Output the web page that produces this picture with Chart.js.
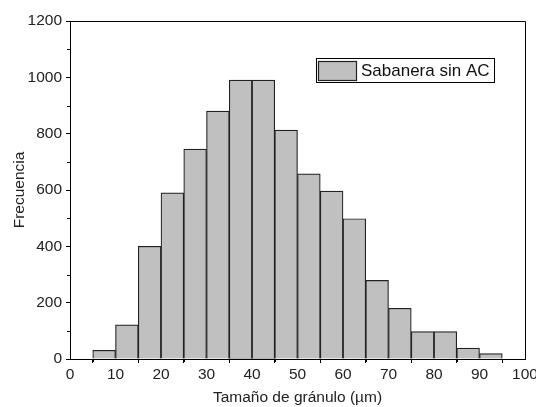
<!DOCTYPE html>
<html>
<head>
<meta charset="utf-8">
<script src="https://cdn.jsdelivr.net/npm/chart.js@4/dist/chart.umd.min.js"></script>
<style>
  html, body { margin: 0; padding: 0; background: #fff; }
  #wrap { width: 536px; height: 407px; position: relative; }
</style>
</head>
<body>
<div id="wrap"><canvas id="c" width="536" height="407"></canvas></div>
<script>
// Bin centers (µm) of the histogram, bin width 5
const binCenters = [7.5, 12.5, 17.5, 22.5, 27.5, 32.5, 37.5, 42.5, 47.5, 52.5, 57.5, 62.5, 67.5, 72.5, 77.5, 82.5, 87.5, 92.5];
// Frequencies
const frecuencia = [31, 121, 400, 590, 745, 880, 990, 990, 813, 657, 596, 498, 279, 180, 97, 97, 39, 19];
const seriesLabel = 'Sabanera sin AC';
const xTitle = 'Tamaño de gránulo (\u00b5m)';
const yTitle = 'Frecuencia';
const xRange = [0, 100], xStep = 10;
const yRange = [0, 1200], yStep = 200;

const FONT = '"Liberation Sans", Arial, sans-serif';
const TXT = '#222';

const framePlugin = {
  id: 'frame',
  afterDatasetsDraw(chart) {
    const {ctx, chartArea: a, scales} = chart;
    ctx.save();
    ctx.strokeStyle = '#000';
    ctx.lineWidth = 1;
    ctx.beginPath();
    ctx.moveTo(a.left, a.top + 0.5);
    ctx.lineTo(a.right + 0.5, a.top + 0.5);
    ctx.lineTo(a.right + 0.5, a.bottom);
    ctx.stroke();
    const xs = scales.x, ys = scales.y;
    ctx.beginPath();
    for (let i = 0; i < xs.ticks.length - 1; i++) {
      const v = (xs.ticks[i].value + xs.ticks[i + 1].value) / 2;
      const px = Math.round(xs.getPixelForValue(v)) + 0.5;
      ctx.moveTo(px, a.bottom);
      ctx.lineTo(px, a.bottom + 3);
    }
    for (let i = 0; i < ys.ticks.length - 1; i++) {
      const v = (ys.ticks[i].value + ys.ticks[i + 1].value) / 2;
      const py = Math.round(ys.getPixelForValue(v)) + 0.5;
      ctx.moveTo(a.left, py);
      ctx.lineTo(a.left - 3, py);
    }
    ctx.stroke();
    ctx.restore();
  }
};

const legendPlugin = {
  id: 'boxLegend',
  afterDraw(chart) {
    const {ctx} = chart;
    const ds = chart.data.datasets[0];
    ctx.save();
    ctx.fillStyle = '#fff';
    ctx.fillRect(316, 58, 179, 24);
    ctx.strokeStyle = '#000';
    ctx.lineWidth = 1;
    ctx.strokeRect(316.5, 58.5, 178, 24);
    ctx.fillStyle = ds.backgroundColor;
    ctx.fillRect(318, 61, 38, 19);
    ctx.lineWidth = 1.2;
    ctx.strokeStyle = '#222';
    ctx.strokeRect(318.5, 61.5, 38, 19);
    ctx.fillStyle = '#111';
    ctx.font = '17px ' + FONT;
    ctx.textBaseline = 'middle';
    ctx.textAlign = 'left';
    ctx.fillText(ds.label, 361, 71);
    ctx.restore();
  }
};

new Chart(document.getElementById('c'), {
  type: 'bar',
  data: {
    datasets: [{
      label: seriesLabel,
      data: binCenters.map((x, i) => ({x: x, y: frecuencia[i]})),
      backgroundColor: '#c0c0c0',
      borderColor: '#222',
      borderWidth: 1.2,
      barPercentage: 1,
      categoryPercentage: 1
    }]
  },
  options: {
    responsive: false,
    animation: false,
    devicePixelRatio: 1,
    layout: { padding: { top: 21, right: 11, left: 0, bottom: 0 } },
    plugins: { legend: { display: false }, tooltip: { enabled: false } },
    scales: {
      x: {
        type: 'linear',
        min: xRange[0], max: xRange[1],
        offset: false,
        ticks: { stepSize: xStep, color: TXT, font: { family: FONT, size: 15.5 }, padding: 2, maxRotation: 0,
                 callback: (v) => String(v) },
        grid: { display: true, drawOnChartArea: false, drawTicks: true, tickLength: 4, color: '#000' },
        border: { display: true, color: '#000', width: 1 },
        title: { display: true, text: xTitle, color: TXT, font: { family: FONT, size: 15.5 }, padding: { top: 0, bottom: 0 } },
        afterFit(s) { s.height = 48; s.paddingRight = 0; s.paddingLeft = 0; }
      },
      y: {
        min: yRange[0], max: yRange[1],
        ticks: { stepSize: yStep, color: TXT, font: { family: FONT, size: 15.5 }, padding: 4,
                 callback: (v) => String(v) },
        grid: { display: true, drawOnChartArea: false, drawTicks: true, tickLength: 4, color: '#000' },
        border: { display: true, color: '#000', width: 1 },
        title: { display: true, text: yTitle, color: TXT, font: { family: FONT, size: 15.5 }, padding: { top: 10, bottom: 0 } },
        afterFit(s) { s.width = 70; }
      }
    }
  },
  plugins: [framePlugin, legendPlugin]
});
</script>
</body>
</html>
